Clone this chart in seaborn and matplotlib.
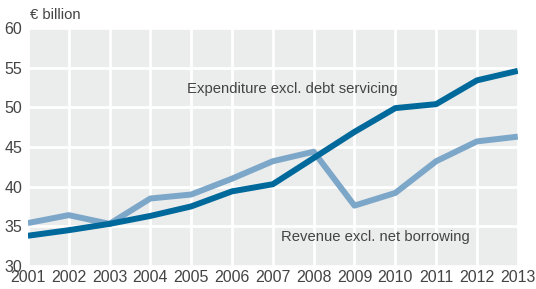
import matplotlib
matplotlib.use("Agg")
import matplotlib.pyplot as plt
import seaborn as sns
import pandas as pd

years = list(range(2001, 2014))
expenditure = [33.8, 34.5, 35.3, 36.3, 37.5, 39.4, 40.3, 43.6, 46.9, 49.9, 50.4, 53.4, 54.6]
revenue = [35.4, 36.4, 35.3, 38.5, 39.0, 41.0, 43.2, 44.4, 37.6, 39.2, 43.2, 45.7, 46.3]
y_ticks = [30, 35, 40, 45, 50, 55, 60]

sns.set_theme(style="darkgrid")
plt.rcParams['font.family'] = ['Liberation Sans', 'DejaVu Sans']

df = pd.DataFrame({"year": years, "Expenditure": expenditure, "Revenue": revenue})

fig = plt.figure(figsize=(5.36, 2.89), dpi=100)
ax = fig.add_axes([0.052, 0.080, 0.914, 0.823])
ax.set_facecolor("#EBECEC")

sns.lineplot(data=df, x="year", y="Revenue", ax=ax, color="#7DA7C9", linewidth=4.3, solid_capstyle="butt")
sns.lineplot(data=df, x="year", y="Expenditure", ax=ax, color="#00699B", linewidth=4.3, solid_capstyle="butt")

ax.set_xlim(2001, 2013)
ax.set_ylim(30, 60)
ax.set_xticks(years)
ax.set_yticks(y_ticks)
ax.set_xticklabels([str(y) for y in years])
ax.grid(True, color="white", linewidth=2)
ax.set_axisbelow(True)
for s in ax.spines.values():
    s.set_visible(False)
ax.tick_params(axis="both", length=0, labelsize=11.5, colors="#444444", pad=3)
ax.tick_params(axis="y", pad=4)
ax.set_xlabel("")
ax.set_ylabel("")

ax.text(2004.9, 52.3, "Expenditure excl. debt servicing", fontsize=10.7, color="#444444", va="center", ha="left")
ax.text(2007.2, 33.6, "Revenue excl. net borrowing", fontsize=10.7, color="#444444", va="center", ha="left")
fig.text(0.056, 0.948, "€ billion", fontsize=10.7, color="#444444", va="center", ha="left")

fig.savefig("out.png", dpi=100)
